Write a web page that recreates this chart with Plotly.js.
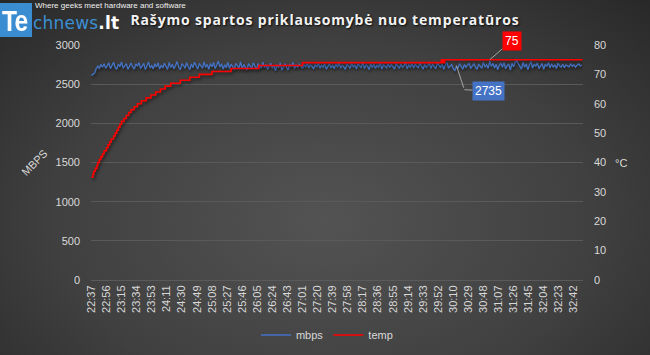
<!DOCTYPE html>
<html>
<head>
<meta charset="utf-8">
<script src="https://cdn.plot.ly/plotly-3.0.1.min.js"></script>
<style>
html,body{margin:0;padding:0;width:650px;height:355px;overflow:hidden;}
body{background:radial-gradient(ellipse 75% 90% at 50% 62%, #535353 0%, #404040 55%, #262626 100%);position:relative;font-family:'Liberation Sans',sans-serif;}
#chart{position:absolute;left:0;top:0;width:650px;height:355px;}
#logo{position:absolute;left:0;top:0;width:200px;height:40px;z-index:5;}
#logo .box{position:absolute;left:0;top:3px;width:32px;height:34px;background:#3a8dd0;}
#logo .te{position:absolute;left:2px;top:3px;color:#fff;font-family:'Liberation Sans',sans-serif;font-weight:bold;font-size:30px;line-height:30px;letter-spacing:-1px;transform:scaleX(0.82);transform-origin:0 0;white-space:nowrap;}
#logo .ch{position:absolute;left:33px;top:13px;color:#3b8fd4;font-family:'DejaVu Sans',sans-serif;font-size:17px;line-height:20px;letter-spacing:0.2px;white-space:nowrap;}
#logo .lt{color:#fff;font-weight:bold;}
#logo .tag{position:absolute;left:35px;top:1px;color:#f0f0f0;font-family:'Liberation Sans',sans-serif;font-size:8px;line-height:10px;white-space:nowrap;}
.gtitle{letter-spacing:0.85px;text-shadow:1px 1px 2px rgba(0,0,0,0.85);}
.scatterlayer .trace{filter:drop-shadow(1px 2px 1.5px rgba(0,0,0,0.55));}
</style>
</head>
<body>
<div id="logo"><div class="box"><span class="te">Te</span></div><div class="ch">chnews<span class="lt">.lt</span></div><div class="tag">Where geeks meet hardware and software</div></div>
<div id="chart"></div>
<script>
// Tick labels (mm:ss) and their sample positions
const timeLabels = ["22:37","22:56","23:15","23:34","23:53","24:11","24:30","24:49","25:08","25:27","25:46","26:05","26:24","26:43","27:01","27:20","27:39","27:58","28:17","28:36","28:55","29:14","29:33","29:52","30:10","30:29","30:48","31:07","31:26","31:45","32:04","32:23","32:42"];
const tickIndex = [0,19,38,57,76,95,114,133,152,171,190,209,228,247,266,285,304,323,342,361,380,399,418,437,456,475,494,513,532,551,570,589,608];

// Write speed (MB/s), one reading every 2 samples
const mbps = [
2612,2628,2641,2700,2731,2705,2752,2716,2760,2702,
2738,2771,2698,2744,2779,2712,2690,2756,2725,2785,
2703,2735,2762,2688,2741,2770,2719,2694,2758,2730,
2776,2700,2733,2765,2686,2748,2784,2709,2737,2695,
2761,2718,2773,2692,2745,2707,2767,2728,2689,2779,
2712,2755,2697,2739,2790,2716,2684,2762,2741,2703,
2774,2725,2686,2759,2711,2781,2734,2694,2766,2729,
2704,2783,2716,2752,2690,2763,2722,2777,2699,2745,
2795,2718,2760,2693,2747,2712,2779,2701,2756,2727,
2688,2765,2731,2709,2786,2697,2752,2720,2682,2761,
2733,2702,2774,2719,2690,2762,2738,2705,2780,2714,
2750,2688,2729,2768,2703,2741,2672,2748,2711,2771,
2678,2730,2759,2712,2684,2753,2725,2777,2700,2742,
2715,2757,2734,2701,2750,2722,2763,2708,2744,2728,
2696,2748,2719,2764,2705,2739,2717,2756,2692,2735,
2760,2711,2738,2699,2752,2724,2768,2706,2741,2721,
2690,2755,2729,2704,2766,2718,2745,2697,2758,2733,
2712,2776,2700,2747,2726,2685,2762,2714,2751,2703,
2740,2719,2767,2695,2746,2730,2708,2759,2713,2749,
2727,2693,2761,2738,2702,2754,2716,2735,2770,2698,
2745,2720,2762,2706,2753,2729,2711,2766,2725,2694,
2750,2717,2737,2765,2703,2756,2723,2699,2771,2731,
2712,2758,2689,2743,2779,2705,2734,2750,2696,2674,
2726,2705,2763,2735,2691,2753,2715,2744,2768,2700,
2739,2764,2718,2688,2757,2729,2702,2778,2724,2748,
2701,2793,2727,2766,2705,2755,2684,2741,2769,2716,
2778,2697,2738,2754,2680,2767,2722,2782,2798,2759,
2731,2692,2780,2715,2762,2685,2749,2787,2706,2757,
2728,2772,2699,2744,2766,2690,2755,2731,2776,2708,
2761,2717,2748,2700,2770,2734,2719,2757,2711,2745,
2736,2722,2758,2730,2749,2718,2741,2760,2733,2745];

// Temperature (°C): sample index where each new reading starts
const tempIdx = [0,2,3,5,7,8,10,12,14,16,19,21,23,25,28,30,32,34,36,38,41,44,47,50,54,58,63,69,75,81,87,93,100,112,124,136,152,176,211,266,441,443,445,619];
const tempVal = [35,36,37,38,39,40,41,42,43,44,45,46,47,48,49,50,51,52,53,54,55,56,57,58,59,60,61,62,63,64,65,66,67,68,69,70,71,72,73,74,75,74,75,75];

const labelColor = '#d9d9d9';
const gridColor = '#5a5a5a';

const traces = [
  {name:'mbps', type:'scatter', mode:'lines', y:mbps, x0:0, dx:2,
   line:{color:'#4472c4', width:1.3}, yaxis:'y', hoverinfo:'skip'},
  {name:'temp', type:'scatter', mode:'lines', x:tempIdx, y:tempVal,
   line:{color:'#ff0000', width:1.6, shape:'hv'}, yaxis:'y2', hoverinfo:'skip'}
];

const layout = {
  width:650, height:355,
  margin:{l:91, r:67, t:45, b:75},
  paper_bgcolor:'rgba(0,0,0,0)', plot_bgcolor:'rgba(0,0,0,0)',
  font:{family:'Liberation Sans, sans-serif', size:11, color:labelColor},
  title:{text:'<b>Rašymo spartos priklausomybė nuo temperatūros</b>',
    font:{family:'Open Sans, sans-serif', size:14, color:'#f2f2f2'},
    x:0.5, xref:'container', xanchor:'center', y:1-20/355, yref:'container', yanchor:'middle'},
  showlegend:true,
  legend:{orientation:'h', x:0.503, xref:'container', xanchor:'center', y:1-335/355, yref:'container', yanchor:'middle',
    font:{size:11, color:labelColor}, bgcolor:'rgba(0,0,0,0)', itemwidth:30},
  xaxis:{range:[-0.5,619.5], tickmode:'array', tickvals:tickIndex, ticktext:timeLabels, tickangle:-90,
    showgrid:false, zeroline:false, showline:true, linecolor:gridColor, linewidth:1, ticks:'',
    tickfont:{size:11, color:labelColor}, fixedrange:true},
  yaxis:{range:[0,3000], dtick:500, tick0:0, showgrid:true, gridcolor:gridColor, gridwidth:1, zeroline:false,
    showline:false, ticks:'', ticklabelstandoff:10, tickfont:{size:11, color:labelColor}, fixedrange:true},
  yaxis2:{range:[0,80], dtick:10, tick0:0, overlaying:'y', side:'right', showgrid:false, zeroline:false,
    showline:false, ticks:'', ticklabelstandoff:10, tickfont:{size:11, color:labelColor}, fixedrange:true},
  annotations:[
    {xref:'paper', yref:'paper', x:(34-91)/492, y:(280-163)/235, xanchor:'center', yanchor:'middle', text:'MBPS', showarrow:false, textangle:-45,
     font:{size:11, color:labelColor}},
    {xref:'paper', yref:'paper', x:(621-91)/492, y:(280-163)/235, xanchor:'center', yanchor:'middle', text:'°C', showarrow:false,
     font:{size:11, color:labelColor}},
    {xref:'x', yref:'y2', x:502, y:75, text:'75', showarrow:true, arrowhead:0, arrowwidth:1, arrowcolor:'#a6a6a6',
     ax:22, ay:-19, bgcolor:'#ff0000', borderpad:2, font:{size:12, color:'#ffffff'}},
    {xref:'x', yref:'y', x:460, y:2735, text:' ', showarrow:true, arrowhead:0, arrowwidth:1, arrowcolor:'#a6a6a6',
     ax:8, ay:24, font:{size:1}},
    {xref:'x', yref:'y', x:460, y:2735, xshift:8, yshift:-24, text:'2735', showarrow:true, arrowhead:0, arrowwidth:1,
     arrowcolor:'#a6a6a6', ax:24, ay:1, bgcolor:'#4472c4', borderpad:2, font:{size:12, color:'#ffffff'}}
  ]
};

Plotly.newPlot('chart', traces, layout, {displayModeBar:false, staticPlot:true});
</script>
</body>
</html>
